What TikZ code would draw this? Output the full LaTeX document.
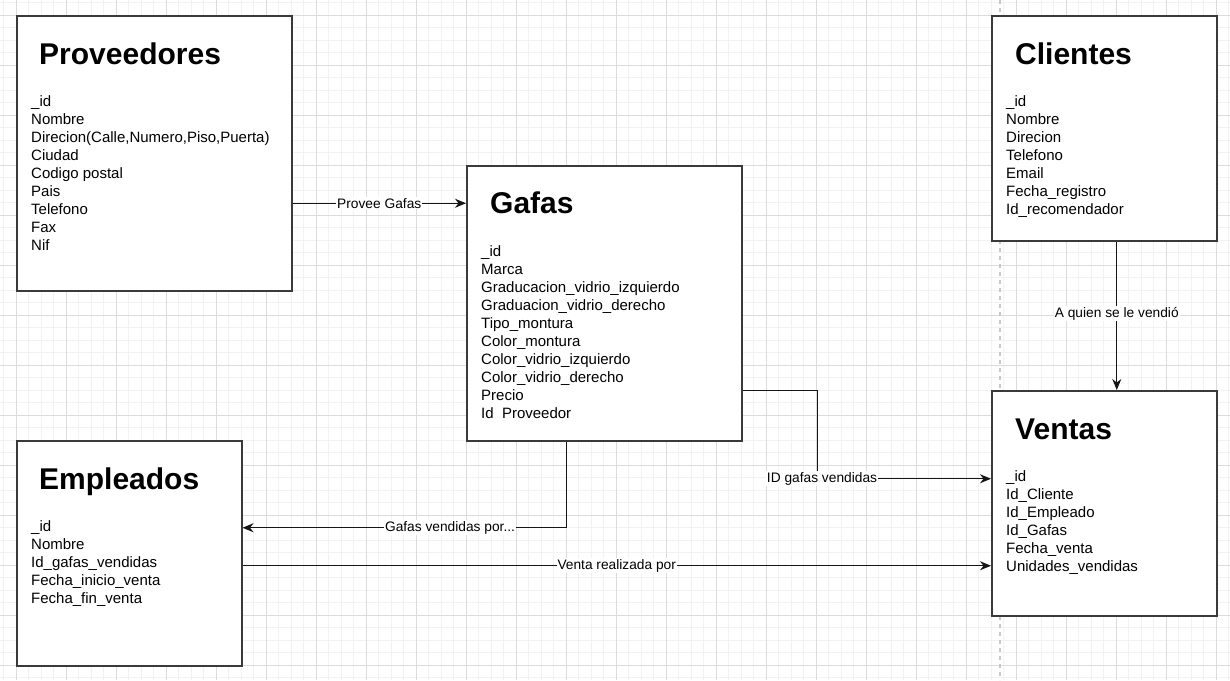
\documentclass[tikz,border=0pt]{standalone}
\usepackage{fontspec}
\setmainfont{Liberation Sans}
\usetikzlibrary{arrows.meta}
\definecolor{minorg}{HTML}{F2F2F2}
\definecolor{majorg}{HTML}{DCDCDC}
\definecolor{pageg}{HTML}{C8C8C8}
\definecolor{boxc}{HTML}{3A3A3A}
\definecolor{linec}{HTML}{151515}
\tikzset{
  entity/.style={draw=boxc, line width=1.5pt, fill=white, inner sep=0pt, anchor=north west, minimum width=#1, minimum height=#1},
  ttl/.style={anchor=base west, inner sep=0pt, font=\bfseries\fontsize{30}{36}\selectfont},
  fld/.style={anchor=base west, inner sep=0pt, font=\fontsize{15}{18}\selectfont},
  conn/.style={draw=linec, line width=1.2pt, -{Stealth[length=11pt,width=9pt,inset=3.5pt]}},
  lbl/.style={fill=white, inner sep=1pt, font=\fontsize{13.75}{16}\selectfont, text=black}
}
\begin{document}
\begin{tikzpicture}[x=1pt,y=-1pt]
\useasboundingbox (0,0) rectangle (1230,680);
\fill[white] (0,0) rectangle (1230,680);
% grid
\foreach \x in {3.5,16,...,1230} \draw[minorg, line width=1pt] (\x,0) -- (\x,680);
\foreach \y in {2.5,15,...,680} \draw[minorg, line width=1pt] (0,\y) -- (1230,\y);
\foreach \x in {16,66,...,1230} \draw[majorg, line width=1pt] (\x,0) -- (\x,680);
\foreach \y in {15,65,...,680} \draw[majorg, line width=1pt] (0,\y) -- (1230,\y);
\draw[pageg, line width=1.2pt, dash pattern=on 4pt off 4pt] (1000,0) -- (1000,680);

% boxes
\node[entity=275pt] (prov) at (16,15) {};
\node[entity=275pt] (gafas) at (466,165) {};
\node[entity=225pt] (cli) at (991,15) {};
\node[entity=225pt] (emp) at (16,440) {};
\node[entity=225pt] (ven) at (991,390) {};

% titles
\node[ttl] (tprov) at ([shift={(23,49)}]prov.north west) {Proveedores};
\node[ttl] (tgaf) at ([shift={(24,48)}]gafas.north west) {Gafas};
\node[ttl] (tcli) at ([shift={(24,49)}]cli.north west) {Clientes};
\node[ttl] (temp) at ([shift={(23,49)}]emp.north west) {Empleados};
\node[ttl] (tven) at ([shift={(24,49)}]ven.north west) {Ventas};

% fields
\foreach \t [count=\i] in {\_id, Nombre, {Direcion(Calle,Numero,Piso,Puerta)}, Ciudad, Codigo postal, Pais, Telefono, Fax, Nif}
  \node[fld] (pf\i) at ([shift={(15,73+18*\i)}]prov.north west) {\t};
\foreach \t [count=\i] in {\_id, Marca, Graducacion\_vidrio\_izquierdo, Graduacion\_vidrio\_derecho, Tipo\_montura, Color\_montura, Color\_vidrio\_izquierdo, Color\_vidrio\_derecho, Precio, Id\ \ Proveedor}
  \node[fld] (gf\i) at ([shift={(15,73+18*\i)}]gafas.north west) {\t};
\foreach \t [count=\i] in {\_id, Nombre, Direcion, Telefono, Email, Fecha\_registro, Id\_recomendador}
  \node[fld] (cf\i) at ([shift={(15,73+18*\i)}]cli.north west) {\t};
\foreach \t [count=\i] in {\_id, Nombre, Id\_gafas\_vendidas, Fecha\_inicio\_venta, Fecha\_fin\_venta}
  \node[fld] (ef\i) at ([shift={(15,73+18*\i)}]emp.north west) {\t};
\foreach \t [count=\i] in {\_id, Id\_Cliente, Id\_Empleado, Id\_Gafas, Fecha\_venta, Unidades\_vendidas}
  \node[fld] (vf\i) at ([shift={(15,73+18*\i)}]ven.north west) {\t};

% connectors
\coordinate (a1) at ([yshift=-50pt]prov.east);
\draw[conn] (a1) -- (a1 -| gafas.west) node[lbl, midway] (la) {Provee Gafas};

\coordinate (b1) at ([xshift=12.5pt]cli.south);
\draw[conn] (b1) -- (b1 |- ven.north) node[lbl, pos=0.487] (lb) {A quien se le vendió};

\coordinate (c1) at ([yshift=-87.5pt]gafas.east);
\coordinate (c2) at ([yshift=24.5pt]ven.west);
\draw[conn] (c1) -- ++(75,0) |- (c2);
\node[lbl] (lc) at ([xshift=-169pt]c2) {ID gafas vendidas};

\coordinate (d1) at ([xshift=-37.5pt]gafas.south);
\coordinate (d2) at ([yshift=25.5pt]emp.east);
\draw[conn] (d1) |- (d2) node[lbl, pos=0.68] (ld) {Gafas vendidas por...};

\coordinate (e1) at ([yshift=-12.5pt]emp.east);
\draw[conn] (e1) -- (e1 -| ven.west) node[lbl, midway] (le) {Venta realizada por};
\end{tikzpicture}
\end{document}
